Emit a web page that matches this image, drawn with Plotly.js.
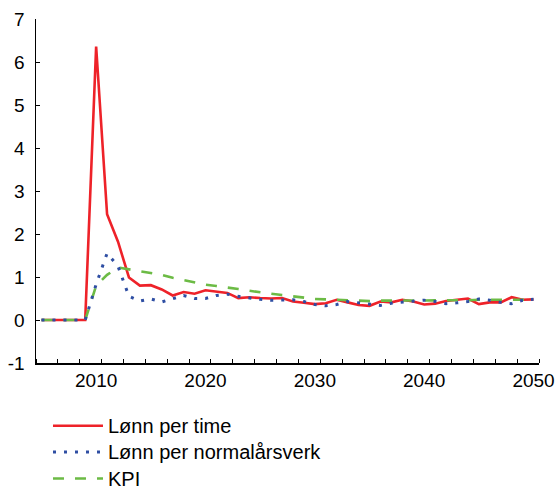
<!DOCTYPE html>
<html>
<head>
<meta charset="utf-8">
<script src="https://cdn.plot.ly/plotly-3.0.1.min.js"></script>
<style>html,body{margin:0;padding:0;background:#fff;}#chart{width:558px;height:488px;}</style>
</head>
<body>
<div id="chart"></div>
<script>
const years = [];
for (let y = 2005; y <= 2050; y++) years.push(y);

const seriesNames = ["Lønn per time", "Lønn per normalårsverk", "KPI"];

const lonnPerTime = [0, 0, 0, 0, 0,
  6.36, 2.46, 1.82, 0.99, 0.80, 0.81, 0.71, 0.57, 0.65, 0.61,
  0.69, 0.66, 0.63, 0.51, 0.53, 0.51, 0.50, 0.51, 0.43, 0.40,
  0.37, 0.39, 0.47, 0.41, 0.35, 0.33, 0.43, 0.41, 0.47, 0.43,
  0.36, 0.38, 0.44, 0.47, 0.50, 0.37, 0.41, 0.41, 0.53, 0.47,
  0.48];

const lonnPerArsverk = [0, 0, 0, 0, 0,
  0.83, 1.55, 1.25, 0.55, 0.44, 0.49, 0.42, 0.50, 0.57, 0.50,
  0.50, 0.57, 0.60, 0.55, 0.51, 0.48, 0.46, 0.46, 0.47, 0.43,
  0.36, 0.33, 0.36, 0.43, 0.40, 0.37, 0.34, 0.39, 0.41, 0.43,
  0.46, 0.43, 0.38, 0.40, 0.43, 0.49, 0.46, 0.41, 0.38, 0.46,
  0.48];

const kpi = [0, 0, 0, 0, 0,
  0.80, 1.05, 1.22, 1.18, 1.14, 1.10, 1.05, 0.98, 0.93, 0.87,
  0.82, 0.79, 0.76, 0.72, 0.68, 0.64, 0.61, 0.58, 0.55, 0.52,
  0.49, 0.48, 0.47, 0.46, 0.45, 0.44, 0.45, 0.45, 0.45, 0.45,
  0.45, 0.45, 0.45, 0.45, 0.46, 0.47, 0.47, 0.47, 0.47, 0.47,
  0.47];

const xTickVals = [2010, 2020, 2030, 2040, 2050];
const xTickText = ["2010", "2020", "2030", "2040", "2050"];
const yTickVals = [-1, 0, 1, 2, 3, 4, 5, 6, 7];
const yTickText = ["-1", "0", "1", "2", "3", "4", "5", "6", "7"];

const big = s => '<span style="font-size:20px">' + s + '</span>';

const traces = [
  {x: years, y: lonnPerTime, name: big(seriesNames[0]), type: "scatter", mode: "lines",
   line: {color: "#ee2229", width: 2.6}, legendrank: 1},
  {x: years, y: kpi, name: big(seriesNames[2]), type: "scatter", mode: "lines",
   line: {color: "#6cbb45", width: 2.6, dash: "11px,11px"}, legendrank: 3},
  {x: years, y: lonnPerArsverk, name: big(seriesNames[1]), type: "scatter", mode: "lines",
   line: {color: "#2e4ea3", width: 3, dash: "3px,8px"}, legendrank: 2}
];

const layout = {
  width: 558, height: 488,
  margin: {l: 36, r: 19, t: 19, b: 125, autoexpand: false},
  paper_bgcolor: "#fff", plot_bgcolor: "#fff",
  font: {family: "Liberation Sans, Arial, sans-serif", size: 19, color: "#000"},
  showlegend: true,
  legend: {
    orientation: "v", xref: "container", yref: "container",
    x: 0.086, xanchor: "left", y: 0.165, yanchor: "top",
    font: {size: 18, color: "#000"}, bgcolor: "rgba(0,0,0,0)",
    itemwidth: 50, traceorder: "normal"
  },
  xaxis: {
    range: [2004.5, 2050.5], tickmode: "array", tickvals: xTickVals, ticktext: xTickText,
    ticks: "", showline: true, linecolor: "#000", linewidth: 1.5, showgrid: false, zeroline: false,
    ticklabelstandoff: 0,
    minor: {tick0: 2004.5, dtick: 2, ticks: "inside", ticklen: 4, tickcolor: "#000", tickwidth: 1, showgrid: false}
  },
  yaxis: {
    range: [-1, 7], tickmode: "array", tickvals: yTickVals, ticktext: yTickText,
    ticks: "inside", ticklen: 4, tickcolor: "#000", tickwidth: 1,
    showline: true, linecolor: "#000", linewidth: 1.5, showgrid: false, zeroline: false,
    ticklabelstandoff: 6
  }
};

Plotly.newPlot("chart", traces, layout, {displayModeBar: false, staticPlot: true});
</script>
</body>
</html>
